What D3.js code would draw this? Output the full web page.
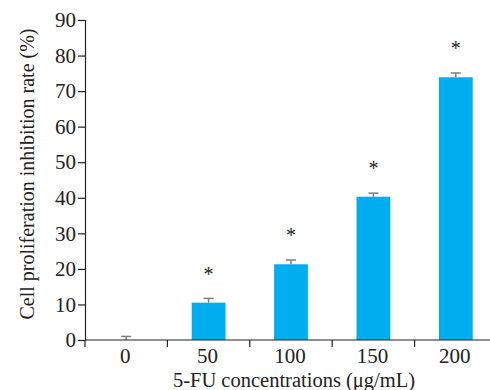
<!DOCTYPE html>
<html>
<head>
<meta charset="utf-8">
<script src="https://cdn.jsdelivr.net/npm/d3@7"></script>
<style>
  body { margin: 0; background: #fff; }
  text { font-family: "Liberation Serif", "Times New Roman", serif; fill: #222; }
</style>
</head>
<body>
<div id="chart"></div>
<script>
var categories = ["0", "50", "100", "150", "200"];
var values = [0, 10.5, 21.3, 40.3, 73.9];
var errors = [1.0, 1.2, 1.2, 1.0, 1.2];
var marked = [false, true, true, true, true];
var yTicks = [0, 10, 20, 30, 40, 50, 60, 70, 80, 90];

var width = 490, height = 390;
var plotLeft = 85, plotTop = 20, plotBottom = 340;

var svg = d3.select("#chart").append("svg")
    .attr("width", width)
    .attr("height", height);

var x = d3.scaleBand()
    .domain(categories)
    .range([plotLeft, 497])
    .paddingInner(0.59)
    .paddingOuter(0.295);

var y = d3.scaleLinear()
    .domain([0, 90])
    .range([plotBottom, plotTop]);

// bars
svg.append("g").selectAll("rect")
    .data(values)
    .enter().append("rect")
    .attr("x", function (d, i) { return x(categories[i]); })
    .attr("y", function (d) { return y(d); })
    .attr("width", x.bandwidth())
    .attr("height", function (d) { return y(0) - y(d); })
    .attr("fill", "#00aeef");

// error bars
var eb = svg.append("g")
    .attr("stroke", "#7f7f7f")
    .attr("stroke-width", 1.5);
values.forEach(function (d, i) {
    var cx = x(categories[i]) + x.bandwidth() / 2;
    eb.append("line")
        .attr("x1", cx).attr("x2", cx)
        .attr("y1", y(d)).attr("y2", y(d + errors[i]));
    eb.append("line")
        .attr("x1", cx - 5).attr("x2", cx + 5)
        .attr("y1", y(d + errors[i])).attr("y2", y(d + errors[i]));
});

// significance marks
var stars = svg.append("g");
values.forEach(function (d, i) {
    if (!marked[i]) return;
    stars.append("text")
        .attr("x", x(categories[i]) + x.bandwidth() / 2)
        .attr("y", y(d + errors[i] + 5.0))
        .attr("text-anchor", "middle")
        .style("font-size", "20px")
        .text("*");
});

// y axis
var yAxis = svg.append("g")
    .attr("transform", "translate(" + plotLeft + ",0)")
    .call(d3.axisLeft(y).tickValues(yTicks).tickSize(7).tickPadding(2));
yAxis.selectAll("text")
    .style("font-size", "21px")
    .style("font-family", "Liberation Serif, serif")
    .style("fill", "#222");
yAxis.select(".domain").attr("stroke", "#222").attr("stroke-width", 1.2);
yAxis.selectAll(".tick line").attr("stroke", "#222").attr("stroke-width", 1.2);

// x axis
var xg = svg.append("g").attr("stroke", "#222").attr("stroke-width", 1.2);
xg.append("line")
    .attr("x1", plotLeft).attr("x2", width)
    .attr("y1", y(0)).attr("y2", y(0));
var step = x.step();
categories.forEach(function (c) {
    var bx = x(c) - x.paddingOuter() * step;
    xg.append("line")
        .attr("x1", bx).attr("x2", bx)
        .attr("y1", y(0)).attr("y2", y(0) + 7);
});
svg.append("g").selectAll("text")
    .data(categories)
    .enter().append("text")
    .attr("x", function (d) { return x(d) + x.bandwidth() / 2 - 1; })
    .attr("y", 363)
    .attr("text-anchor", "middle")
    .style("font-size", "21px")
    .text(function (d) { return d; });

// titles
svg.append("text")
    .attr("x", 294)
    .attr("y", 387)
    .attr("text-anchor", "middle")
    .style("font-size", "20.5px")
    .text("5-FU concentrations (μg/mL)");

svg.append("text")
    .attr("transform", "translate(34,174) rotate(-90)")
    .attr("text-anchor", "middle")
    .style("font-size", "20px")
    .text("Cell proliferation inhibition rate (%)");
</script>
</body>
</html>
